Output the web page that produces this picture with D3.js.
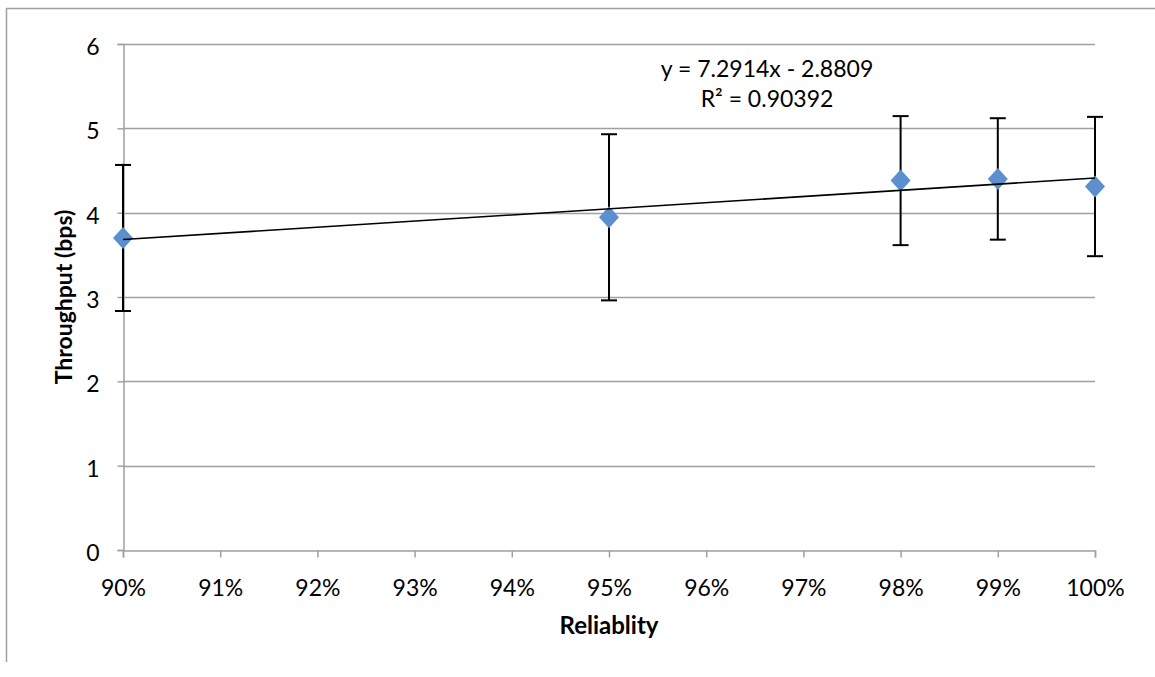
<!DOCTYPE html>
<html>
<head>
<meta charset="utf-8">
<script src="https://cdn.jsdelivr.net/npm/d3@7"></script>
<style>
  html, body { margin: 0; padding: 0; background: #fff; }
  svg { display: block; font-family: Lato, "Open Sans", sans-serif; }
</style>
</head>
<body>
<svg id="chart" width="1155" height="677"></svg>
<script>
// ---- data ----
const reliability = [0.90, 0.95, 0.98, 0.99, 1.00];
const throughput  = [3.70, 3.945, 4.38, 4.40, 4.31];
const errorAmount = [0.866, 0.985, 0.765, 0.72, 0.826];
const xTicks = [0.90, 0.91, 0.92, 0.93, 0.94, 0.95, 0.96, 0.97, 0.98, 0.99, 1.00];
const yTicks = [0, 1, 2, 3, 4, 5, 6];
const trendSlope = 7.2914;
const trendIntercept = -2.8809;
const trendLabel = ["y = 7.2914x - 2.8809", "R\u00B2 = 0.90392"];
const xTitle = "Reliablity";
const yTitle = "Throughput (bps)";

// ---- layout ----
const svg = d3.select("#chart");
const pLeft = 123, pRight = 1095, pTop = 44, pBottom = 550;
const gridColor = "#a0a0a0";
const fontFam = "Lato, 'Open Sans', sans-serif";
const x = d3.scaleLinear().domain([0.90, 1.00]).range([pLeft, pRight]);
const y = d3.scaleLinear().domain([0, 6]).range([pBottom, pTop]);

// outer chart border (top and left visible)
svg.append("line").attr("x1", 6).attr("x2", 1155).attr("y1", 8.5).attr("y2", 8.5)
  .attr("stroke", gridColor).attr("stroke-width", 1.5);
svg.append("line").attr("x1", 6.5).attr("x2", 6.5).attr("y1", 8).attr("y2", 662)
  .attr("stroke", gridColor).attr("stroke-width", 1.5);

// gridlines
svg.append("g").selectAll("line").data(yTicks.filter(d => d > 0)).join("line")
  .attr("x1", pLeft).attr("x2", pRight)
  .attr("y1", d => Math.round(y(d)) + 0.5).attr("y2", d => Math.round(y(d)) + 0.5)
  .attr("stroke", gridColor).attr("stroke-width", 1.5);

// y axis
const yAxis = d3.axisLeft(y).tickValues(yTicks).tickSize(6).tickPadding(18)
  .tickFormat(d3.format("d"));
const gy = svg.append("g").attr("transform", `translate(${pLeft + 0.5},0)`).call(yAxis);
gy.select(".domain").attr("stroke", gridColor).attr("stroke-width", 1.5);
gy.selectAll(".tick line").attr("stroke", gridColor).attr("stroke-width", 1.5);
gy.selectAll(".tick text").attr("font-size", 23).attr("fill", "#000")
  .attr("font-family", fontFam).attr("dy", "0.45em");

// x axis
const xAxis = d3.axisBottom(x).tickValues(xTicks).tickSize(7).tickPadding(22)
  .tickFormat(d3.format(".0%"));
const gx = svg.append("g").attr("transform", `translate(0,${pBottom + 0.5})`).call(xAxis);
gx.select(".domain").attr("stroke", gridColor).attr("stroke-width", 1.5);
gx.selectAll(".tick line").attr("stroke", gridColor).attr("stroke-width", 1.5);
gx.selectAll(".tick text").attr("font-size", 23).attr("fill", "#000")
  .attr("font-family", fontFam);

// axis titles
svg.append("text").attr("x", (pLeft + pRight) / 2).attr("y", 634)
  .attr("text-anchor", "middle").attr("font-size", 24).attr("font-weight", "bold")
  .text(xTitle);
svg.append("text")
  .attr("transform", `translate(72,${(pTop + pBottom) / 2}) rotate(-90)`)
  .attr("text-anchor", "middle").attr("font-size", 23).attr("font-weight", "bold")
  .text(yTitle);

// error bars
const capHalf = 8;
const eb = svg.append("g").attr("stroke", "#000").attr("stroke-width", 2);
reliability.forEach((r, i) => {
  const cx = x(r), hi = y(throughput[i] + errorAmount[i]), lo = y(throughput[i] - errorAmount[i]);
  eb.append("line").attr("x1", cx).attr("x2", cx).attr("y1", hi).attr("y2", lo);
  eb.append("line").attr("x1", cx - capHalf).attr("x2", cx + capHalf).attr("y1", hi).attr("y2", hi);
  eb.append("line").attr("x1", cx - capHalf).attr("x2", cx + capHalf).attr("y1", lo).attr("y2", lo);
});

// markers (diamonds)
svg.append("g").selectAll("path").data(reliability).join("path")
  .attr("transform", (d, i) => `translate(${x(d)},${y(throughput[i])})`)
  .attr("d", "M0,-11L10,0L0,11L-10,0Z")
  .attr("fill", "#5B8FCD");

// trendline
const tx = [0.90, 1.00];
svg.append("line")
  .attr("x1", x(tx[0])).attr("y1", y(trendSlope * tx[0] + trendIntercept))
  .attr("x2", x(tx[1])).attr("y2", y(trendSlope * tx[1] + trendIntercept))
  .attr("stroke", "#000").attr("stroke-width", 1.6);

// trendline label
const lbl = svg.append("text").attr("text-anchor", "middle").attr("font-size", 23)
  .attr("font-family", fontFam);
lbl.selectAll("tspan").data(trendLabel).join("tspan")
  .attr("x", 767).attr("y", (d, i) => 77 + i * 30).text(d => d);
</script>
</body>
</html>
